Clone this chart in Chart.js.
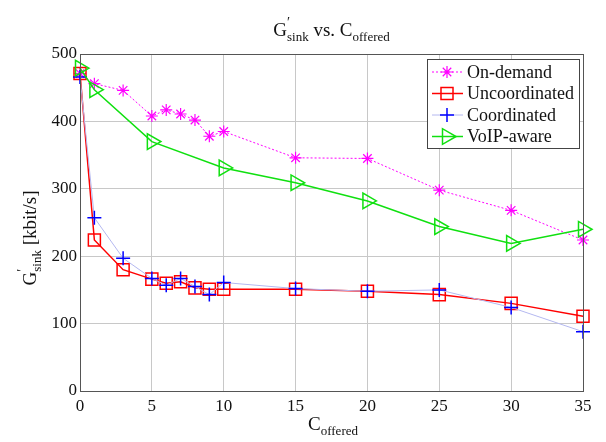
<!DOCTYPE html>
<html>
<head>
<meta charset="utf-8">
<script src="https://cdn.jsdelivr.net/npm/chart.js@4.4.1/dist/chart.umd.min.js"></script>
<style>
  html, body { margin: 0; padding: 0; background: #fff; }
</style>
</head>
<body>
<canvas id="chart" width="606" height="442"></canvas>
<script>
// x positions (C offered)
const xDense = [0, 1, 3, 5, 6, 7, 8, 9, 10, 15, 20, 25, 30, 35];
const xVoip = [0, 1, 5, 10, 15, 20, 25, 30, 35];

// G'sink [kbit/s]
const onDemand = [471, 456, 446, 408, 417, 411, 402, 378, 385, 346, 345, 298, 268, 224];
const uncoordinated = [471, 224, 180, 166, 160, 162, 153, 151, 151, 151, 148, 143, 130, 111];
const coordinated = [466, 257, 197, 167, 157, 167, 155, 143, 161, 152, 148, 150, 124, 88];
const voipAware = [479, 447, 370, 331, 309, 282, 244, 219, 240];

const xTicks = [0, 5, 10, 15, 20, 25, 30, 35];
const yTicks = [0, 100, 200, 300, 400, 500];

const FONT = 'Liberation Serif';

function pts(xs, ys) {
    return xs.map((x, i) => ({ x: x, y: ys[i] }));
}

const series = [
    { label: 'On-demand', data: pts(xDense, onDemand), line: '#ff00ff', mark: '#ff00ff',
      style: 'star', radius: 6, rot: 0, dash: [2, 2], lw: 1, mw: 1.2, order: 4 },
    { label: 'Uncoordinated', data: pts(xDense, uncoordinated), line: '#ff0000', mark: '#ff0000',
      style: 'rect', radius: 8.5, rot: 0, dash: [], lw: 1.5, mw: 1.5, order: 3 },
    { label: 'Coordinated', data: pts(xDense, coordinated), line: '#b4b8f0', mark: '#0000ff',
      style: 'cross', radius: 7, rot: 0, dash: [], lw: 1, mw: 1.5, order: 2 },
    { label: 'VoIP-aware', data: pts(xVoip, voipAware), line: '#10e010', mark: '#10e010',
      style: 'triangle', radius: 9, rot: 90, dash: [], lw: 1.5, mw: 1.5, order: 1 }
];

// text with sub/superscripts, runs with stack:true do not advance
function runsWidth(ctx, runs) {
    let w = 0;
    runs.forEach(r => {
        ctx.font = r.s + 'px "' + FONT + '"';
        if (!r.stack) w += ctx.measureText(r.t).width;
    });
    return w;
}

function drawRuns(ctx, runs, cx, y) {
    let x = cx - runsWidth(ctx, runs) / 2;
    ctx.textAlign = 'left';
    ctx.textBaseline = 'alphabetic';
    runs.forEach(r => {
        ctx.font = r.s + 'px "' + FONT + '"';
        ctx.fillText(r.t, x, y + (r.dy || 0));
        if (!r.stack) x += ctx.measureText(r.t).width;
    });
}

const decorPlugin = {
    id: 'decor',
    afterDraw(chart) {
        const ctx = chart.ctx;
        const a = chart.chartArea;
        ctx.save();

        // axes box
        ctx.strokeStyle = '#555';
        ctx.lineWidth = 1;
        ctx.strokeRect(Math.round(a.left) + 0.5, Math.round(a.top) + 0.5,
            Math.round(a.right - a.left), Math.round(a.bottom - a.top));

        ctx.fillStyle = '#111';
        // title
        drawRuns(ctx, [
            { t: 'G', s: 19 }, { t: '′', s: 14, dy: -9, stack: true }, { t: 'sink', s: 13, dy: 5 },
            { t: ' vs. C', s: 19 }, { t: 'offered', s: 13, dy: 5 }
        ], (a.left + a.right) / 2, 36);

        // x label
        drawRuns(ctx, [{ t: 'C', s: 19 }, { t: 'offered', s: 13, dy: 5 }], 333, 430);

        // y label
        ctx.save();
        ctx.translate(36, 238);
        ctx.rotate(-Math.PI / 2);
        drawRuns(ctx, [
            { t: 'G', s: 19 }, { t: '′', s: 14, dy: -9, stack: true }, { t: 'sink', s: 13, dy: 5 },
            { t: ' [kbit/s]', s: 19 }
        ], 0, 0);
        ctx.restore();

        // legend
        const lx = 427, ly = 59, lw = 152, lh = 89;
        ctx.fillStyle = '#fff';
        ctx.fillRect(lx, ly, lw, lh);
        ctx.strokeStyle = '#444';
        ctx.strokeRect(lx + 0.5, ly + 0.5, lw, lh);
        const rows = [72, 93.5, 115, 136.5];
        series.forEach((s, i) => {
            const y = rows[i];
            ctx.strokeStyle = s.line;
            ctx.lineWidth = s.lw;
            ctx.setLineDash(s.dash);
            ctx.beginPath();
            ctx.moveTo(432, y);
            ctx.lineTo(463, y);
            ctx.stroke();
            ctx.setLineDash([]);
            ctx.strokeStyle = s.mark;
            ctx.fillStyle = 'rgba(0,0,0,0)';
            ctx.lineWidth = s.mw;
            Chart.helpers.drawPoint(ctx, { pointStyle: s.style, radius: s.radius, rotation: s.rot, borderWidth: s.mw }, 447, y);
            ctx.fillStyle = '#111';
            ctx.font = '18px "' + FONT + '"';
            ctx.textAlign = 'left';
            ctx.textBaseline = 'middle';
            ctx.fillText(s.label, 467, y + 1);
        });
        ctx.restore();
    }
};

new Chart(document.getElementById('chart'), {
    type: 'line',
    data: {
        datasets: series.map(s => ({
            label: s.label,
            data: s.data,
            borderColor: s.line,
            borderWidth: s.lw,
            borderDash: s.dash,
            pointStyle: s.style,
            pointRadius: s.radius,
            pointHoverRadius: s.radius,
            pointRotation: s.rot,
            pointBorderColor: s.mark,
            pointBackgroundColor: 'rgba(0,0,0,0)',
            pointBorderWidth: s.mw,
            fill: false,
            tension: 0,
            clip: false,
            order: s.order
        }))
    },
    options: {
        responsive: false,
        animation: false,
        events: [],
        layout: { padding: { top: 54, right: 23, bottom: 0, left: 0 } },
        plugins: { legend: { display: false }, title: { display: false }, tooltip: { enabled: false } },
        scales: {
            x: {
                type: 'linear',
                min: 0,
                max: 35,
                afterBuildTicks: scale => { scale.ticks = xTicks.map(v => ({ value: v })); },
                afterFit: scale => { scale.height = 51; },
                grid: { color: '#c8c8c8', drawTicks: false },
                border: { color: '#555' },
                ticks: { padding: 5, color: '#111', font: { family: FONT, size: 17 }, maxRotation: 0 }
            },
            y: {
                min: 0,
                max: 500,
                afterBuildTicks: scale => { scale.ticks = yTicks.map(v => ({ value: v })); },
                afterFit: scale => { scale.width = 80; },
                grid: { color: '#c8c8c8', drawTicks: false },
                border: { color: '#555' },
                ticks: { padding: 3, color: '#111', font: { family: FONT, size: 17 } }
            }
        }
    },
    plugins: [decorPlugin]
});
</script>
</body>
</html>
